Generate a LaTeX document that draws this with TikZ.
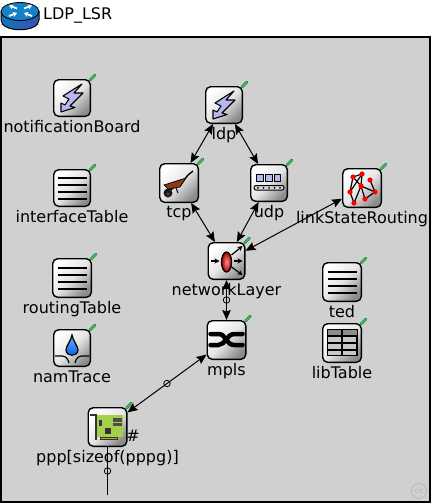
\documentclass[tikz,border=0pt]{standalone}
\usepackage{fontspec}
\setmainfont{DejaVu Sans}
\usetikzlibrary{%
  arrows.meta,%
  positioning%
}
\definecolor{canvas}{HTML}{D0D0D0}
\definecolor{boltblue}{HTML}{B8B8F0}
\definecolor{plugreen}{HTML}{35C060}
\definecolor{plugdark}{HTML}{2F6B3A}
\definecolor{barrowred}{HTML}{8C3A12}
\definecolor{cardgreen}{HTML}{A2D04A}
\definecolor{cardgold}{HTML}{B8A81E}
\definecolor{routertop}{HTML}{1582C8}
\definecolor{routerleft}{HTML}{0F78B8}
\definecolor{routerright}{HTML}{3A50B4}
\begin{document}
\begin{tikzpicture}
    [   x=1pt
    ,   y=-1pt
    ,   >={Stealth[length=10pt,width=8.5pt,inset=1.5pt]}
    ,   every node/.style={font=\fontsize{16}{18}\selectfont}
    ,   conn/.style={line width=1pt}
    ,   module/.style=
            {   % The shape:
                rectangle
            ,   minimum size=36.6pt
            ,   inner sep=0pt
            ,   rounded corners=5pt
            ,   % The rest
                line width=1.4pt
            ,   draw=black
            ,   top color=white
            ,   bottom color=black!45
            ,   middle color=black!10
            ,   shading angle=45
            ,   label distance=3.5pt
            ,   every label/.style={inner sep=0pt,text height=12pt,text depth=3.5pt,text=black}
            }
    ,   bigmodule/.style={module,minimum size=38.6pt}
    ,   gatemark/.style={circle,draw=black,line width=0.8pt,inner sep=0pt,minimum size=6.5pt}
    ,   plug/.pic={
            \draw[plugdark,line width=2.8pt,line cap=round] (-1,1)--(4,-4);
            \draw[plugreen,line width=1.7pt,line cap=round] (-1,1)--(4,-4);
        }
    ,   bolt/.pic={
            \draw[fill=boltblue,line width=1.1pt,line join=round]
                (10,-14)--(-9,-2)--(-3,1)--(-7,7)--(-11,5)--(-11,14)--(3,9.5)--(-2,8)--(11,-5)--(2,-5)--cycle;
        }
    ,   barrow/.pic={
            \draw[line width=1.4pt] (-11,9)--(5,-3)--(9,-8)--(14,-12);
            \draw[line width=1pt] (-3,5)--(-1,10);
            \fill[black!90] (-11,10) circle (4.5);
            \fill[barrowred] (-11,11) circle (1.7);
            \draw[fill=barrowred,line width=.7pt] (-15,2)--(7,-5)--(1,4)--(-11,6)--cycle;
        }
    ,   belt/.pic={
            \foreach \x in {-9,0,8.5}
                \draw[fill=boltblue,line width=1pt] (\x-3.3,-8.5) rectangle (\x+3.3,-2);
            \draw[fill=black!15,line width=1pt,rounded corners=2pt] (-15,2.5) rectangle (15,7);
            \foreach \x in {-11,-5.5,0,5.5,11}
                \fill (\x,4.8) circle (1);
        }
    ,   layer/.pic={
            \draw[->,>={Stealth[length=5pt,width=5pt]},line width=1.2pt] (-16,0)--(-7,0);
            \draw[->,>={Stealth[length=5pt,width=5pt]},line width=1.2pt] (7,0)--(16,0);
            \draw[->,>={Stealth[length=5pt,width=5pt]},line width=1.2pt] (5,-6)--(16,-15);
            \draw[->,>={Stealth[length=5pt,width=5pt]},line width=1.2pt] (5,6)--(16,14);
            \draw[line width=1.3pt,inner color=red!45!white,outer color=red!65!black] (0,1) ellipse (5 and 10);
        }
    ,   swap/.pic={
            \draw[line width=4.5pt,line cap=round] (-16,-6)--(-8,-6) .. controls (0,-6) and (-1,5) .. (8,5)--(16,5);
            \draw[line width=4.5pt,line cap=round] (-16,5)--(-8,5) .. controls (-1,5) and (0,-6) .. (8,-6)--(16,-6);
        }
    ,   lines/.pic={
            \foreach \y in {-10,-3,4,11}
                \draw[line width=1.7pt] (-14.5,\y)--(14.5,\y);
        }
    ,   grid/.pic={
            \draw[fill=black!22,line width=1.4pt] (-14.5,-13) rectangle (15,12.5);
            \fill[black!45] (-14.5,-13) rectangle (15,-7);
            \foreach \y in {-7,0,7}
                \draw[line width=1.4pt] (-14.5,\y)--(15,\y);
            \draw[line width=1.4pt] (0,-13)--(0,12.5);
        }
    ,   drop/.pic={
            \draw[line width=1.2pt] (-17,8)--(-10,8) .. controls (-6,8) and (-4,11) .. (-3,15);
            \draw[line width=1.2pt] (17,8)--(10,8) .. controls (6,8) and (4,11) .. (3,15);
            \draw[line width=1.2pt,top color=cyan!50!blue!60,bottom color=blue!60!cyan!90!black]
                (0,-13) .. controls (1,-7) and (6,-2) .. (6,2) .. controls (6,9) and (-6,9) .. (-6,2) .. controls (-6,-2) and (-1,-7) .. (0,-13)--cycle;
        }
    ,   netgraph/.pic={
            \coordinate (a) at (-9,-11);
            \coordinate (b) at (0,-14);
            \coordinate (c) at (8,-8);
            \coordinate (d) at (-1,-2);
            \coordinate (e) at (13,4);
            \coordinate (f) at (-12,4);
            \coordinate (g) at (3,11);
            \coordinate (h) at (-8,15);
            \foreach \p/\q in {a/b,a/f,a/d,b/f,f/h,d/h,d/g,d/e,g/e,c/e,d/b}
                \draw[line width=1.2pt] (\p)--(\q);
            \foreach \p in {a,b,c,d,e,f,g,h}
                \fill[red] (\p) circle (2.6);
        }
    ,   nic/.pic={
            \draw[draw=black!80,fill=cardgold,line width=.7pt] (-17,-13) rectangle (-11,-11.5);
            \draw[draw=black!80,fill=cardgold,line width=.7pt] (-12.5,-13) rectangle (-11,12);
            \fill[cardgreen] (-11,-12) rectangle (15,10);
            \draw[draw=black!80,fill=cardgold,line width=.5pt] (-7,10) rectangle (10,12);
            \fill[black!70] (5,-9) rectangle (14,-5.5);
            \fill[black!70] (5,-4.5) rectangle (14,-1);
            \fill[black!80] (-3,1) rectangle (3.5,6.5);
            \fill[black!80] (-9,-7.5) rectangle (-6,-1);
        }
    ]

    \fill[white] (0,0) rectangle (431,503);
    \draw[line width=2pt,fill=canvas] (1,37) rectangle (430,502);

    % The title:
    \shade[left color=routerleft,right color=routerright] (1,11) -- (1,20) .. controls (1,33) and (39,33) .. (39,20) -- (39,11) -- cycle;
    \draw[line width=1pt] (1,11) -- (1,20) .. controls (1,33) and (39,33) .. (39,20) -- (39,11);
    \draw[line width=.8pt,fill=routertop] (20,11.5) ellipse (19 and 9);
    \foreach \s/\t/\u/\v in {17/8.5/9/5.5,9/16/17/13,24/8.5/32/5.5,32/16/24/13}
        \draw[-{Stealth[length=4pt,width=5pt]},white,line width=1.8pt] (\s,\t)--(\u,\v);
    \node[anchor=west,inner sep=0pt](title) at (43,15){LDP\_LSR};

    \node[module,label=below:notificationBoard](notificationBoard) at (72,98){};
    \node[module,label=below:interfaceTable](interfaceTable) at (72,188){};
    \node[bigmodule,label=below:routingTable](routingTable) at (72,278){};
    \node[module,label=below:namTrace](namTrace) at (72,348){};
    \node[module,label=below:ldp](ldp) at (224,105){};
    \node[bigmodule,label=below:tcp](tcp) at (179,183){};
    \node[module,label=below:udp](udp) at (269,183){};
    \node[bigmodule,label=below:linkStateRouting](linkStateRouting) at (362,188){};
    \node[module,label=below:networkLayer](networkLayer) at (226.5,261){};
    \node[bigmodule,label=below:ted](ted) at (342,282){};
    \node[bigmodule,label=below:libTable](libTable) at (342,343){};
    \node[bigmodule,label=below:mpls](mpls) at (226.5,340){};
    \node[bigmodule,label=below:{ppp[sizeof(pppg)]}](ppp) at (107.5,427){};
    \node[inner sep=0pt](ppphash) at (133,436){\#};
    \coordinate (pppout) at (107.5,495);

    \pic at (notificationBoard) {bolt};
    \pic at (ldp) {bolt};
    \pic at (tcp) {barrow};
    \pic at (udp) {belt};
    \pic at (networkLayer) {layer};
    \pic at (mpls) {swap};
    \pic at (linkStateRouting) {netgraph};
    \pic at (interfaceTable) {lines};
    \pic at (routingTable) {lines};
    \pic at (ted) {lines};
    \pic at (libTable) {grid};
    \pic at (namTrace) {drop};
    \pic at (ppp) {nic};

    \foreach \m in {notificationBoard,interfaceTable,routingTable,namTrace,ldp,tcp,udp,linkStateRouting,networkLayer,ted,libTable,mpls,ppp}
        \pic at (\m.north east) {plug};

    \draw[<->,conn](ldp)--(tcp);
    \draw[<->,conn](ldp)--(udp);
    \draw[<->,conn](tcp)--(networkLayer);
    \draw[<->,conn](udp)--(networkLayer);
    \draw[<->,conn](networkLayer)--(linkStateRouting);
    \draw[<->,conn](networkLayer)--(mpls) node[gatemark,midway](nlmark){};
    \draw[<->,conn](mpls)--(ppp) node[gatemark,midway](mplsmark){};
    \draw[conn](ppp)--(pppout) node[gatemark,midway](pppmark){};

    % faint mark in the corner
    \node[circle,draw=black!26,text=black!26,line width=1pt,minimum size=15pt,inner sep=0pt,font=\fontsize{8}{8}\selectfont\bfseries](ccmark) at (419,491){cc};
\end{tikzpicture}
\end{document}
